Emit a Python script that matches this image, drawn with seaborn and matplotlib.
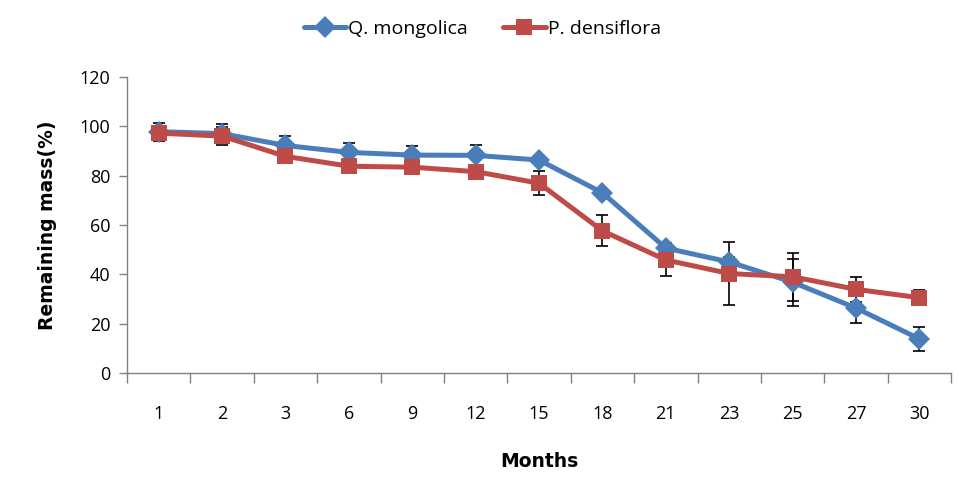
import matplotlib
matplotlib.use("Agg")
import matplotlib.pyplot as plt
import numpy as np
import pandas as pd
import seaborn as sns

# litter decomposition data
months = ["1", "2", "3", "6", "9", "12", "15", "18", "21", "23", "25", "27", "30"]
q_mongolica = [97.8, 97.0, 92.2, 89.4, 88.3, 88.2, 86.3, 73.0, 50.6, 45.0, 36.8, 26.3, 13.8]
q_err = [3.5, 3.8, 4.0, 3.7, 3.8, 4.0, 1.5, 1.5, 2.0, 2.0, 9.5, 6.0, 5.0]
p_densiflora = [97.2, 96.0, 87.8, 83.8, 83.4, 81.6, 76.9, 57.6, 45.8, 40.3, 39.0, 33.9, 30.5]
p_err = [3.0, 3.5, 2.0, 2.0, 2.5, 2.5, 4.8, 6.3, 6.5, 12.7, 9.8, 5.0, 3.0]

blue = "#4A7EBB"
red = "#BE4B48"

df = pd.DataFrame({
    "Months": months * 2,
    "mass": q_mongolica + p_densiflora,
    "species": ["Q. mongolica"] * len(months) + ["P. densiflora"] * len(months),
})

sns.set_style("white")
plt.rcParams["font.family"] = ["Open Sans", "DejaVu Sans"]
plt.rcParams["text.color"] = "black"
plt.rcParams["xtick.color"] = "black"
plt.rcParams["ytick.color"] = "black"
plt.rcParams["axes.labelcolor"] = "black"

fig = plt.figure(figsize=(9.64, 4.96), dpi=100)
ax = fig.add_axes([0.1317, 0.248, 0.855, 0.597])

x = np.arange(len(months))
ax.errorbar(x, q_mongolica, yerr=q_err, fmt="none", ecolor="black",
            elinewidth=1.2, capsize=4, capthick=1.2, zorder=1)
ax.errorbar(x, p_densiflora, yerr=p_err, fmt="none", ecolor="black",
            elinewidth=1.2, capsize=4, capthick=1.2, zorder=1)

sns.lineplot(data=df, x="Months", y="mass", hue="species", style="species",
             markers={"Q. mongolica": "D", "P. densiflora": "s"}, dashes=False,
             palette={"Q. mongolica": blue, "P. densiflora": red},
             linewidth=3.6, markersize=11, markeredgewidth=0, sort=False, ax=ax, zorder=3)

ax.set_ylim(0, 120)
ax.set_yticks(range(0, 121, 20))
ax.set_xlim(-0.5, len(months) - 0.5)
ax.set_xticks(x)
ax.set_xticklabels(months)
ax.set_xticks(np.arange(-0.5, len(months)), minor=True)
ax.tick_params(axis="x", which="major", length=0, pad=23, labelsize=13)
ax.tick_params(axis="x", which="minor", length=7, width=1, color="#808080", direction="out", bottom=True)
ax.tick_params(axis="y", length=6, width=1, color="#808080", direction="out", left=True, labelsize=13, pad=6)

for side in ["top", "right"]:
    ax.spines[side].set_visible(False)
for side in ["left", "bottom"]:
    ax.spines[side].set_color("#808080")
    ax.spines[side].set_linewidth(1)

ax.set_xlabel("Months", fontsize=13.5, fontweight="bold", labelpad=21, family="DejaVu Sans")
ax.set_ylabel("Remaining mass(%)", fontsize=13.5, fontweight="bold", labelpad=16, family="DejaVu Sans")

handles, labels = ax.get_legend_handles_labels()
ax.legend(handles, labels, loc="center", bbox_to_anchor=(0.431, 1.162), ncol=2,
          frameon=False, fontsize=14, handlelength=2.2, handletextpad=0.1, columnspacing=1.8)

fig.savefig("out.png", dpi=100)
